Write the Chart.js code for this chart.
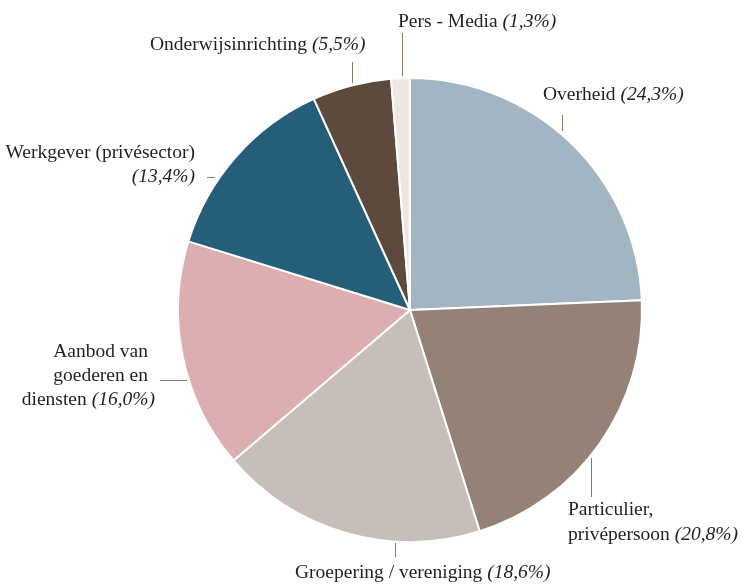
<!DOCTYPE html>
<html>
<head>
<meta charset="utf-8">
<script src="https://cdn.jsdelivr.net/npm/chart.js@4/dist/chart.umd.min.js"></script>
<style>
  html, body { margin: 0; padding: 0; background: #ffffff; }
  #wrap { width: 744px; height: 584px; }
</style>
</head>
<body>
<div id="wrap"><canvas id="c" width="744" height="584"></canvas></div>
<script>
// ---- Data ----
const categories = [
  'Overheid',
  'Particulier, privépersoon',
  'Groepering / vereniging',
  'Aanbod van goederen en diensten',
  'Werkgever (privésector)',
  'Onderwijsinrichting',
  'Pers - Media'
];
const shares = [24.3, 20.8, 18.6, 16.0, 13.4, 5.5, 1.3];
const sliceColors = ['#a2b5c3', '#958276', '#c8beb9', '#dcaeb0', '#245e78', '#5d4a3c', '#ede6e3'];

// ---- Label layout (line splits and placement relative to pie centre, in units of a 232px radius) ----
const labelLines = [
  ['Overheid'],
  ['Particulier,', 'privépersoon'],
  ['Groepering / vereniging'],
  ['Aanbod van', 'goederen en', 'diensten'],
  ['Werkgever (privésector)', ''],
  ['Onderwijsinrichting'],
  ['Pers - Media']
];
// leader: [x1,y1,x2,y2] ; text: align, x, first line y, line step ; per-line x override
const labelPlace = [
  { leader: [152, -195, 152, -179], align: 'left',  x: 133, y: -215, step: 24 },
  { leader: [181, 148, 181, 187],   align: 'left',  x: 158, y: 200,  step: 25 },
  { leader: [-15, 233, -15, 247],   align: 'left',  x: -115, y: 263, step: 24 },
  { leader: [-250, 70, -223, 70],   align: 'right', xs: [-262, -262, -255], y: 42, step: 24 },
  { leader: [-203, -133, -195, -133], align: 'right', xs: [-215, -215], y: -157, step: 24 },
  { leader: [-58, -248, -58, -227], align: 'left',  x: -260, y: -265, step: 24 },
  { leader: [-8, -277, -8, -234],   align: 'left',  x: -12, y: -288, step: 24 }
];

const FONT_FAMILY = '"Liberation Serif", "Times New Roman", serif';
const FONT_SIZE = 19.5;
const TEXT_COLOR = '#231f20';
const LEADER_COLOR = '#8a786d';

function pctText(v) {
  return '(' + v.toFixed(1).replace('.', ',') + '%)';
}

const labelPlugin = {
  id: 'pieLabels',
  afterDatasetsDraw(chart) {
    const ctx = chart.ctx;
    const meta = chart.getDatasetMeta(0);
    const arc = meta.data[0];
    if (!arc) return;
    const cx = arc.x, cy = arc.y;
    const s = arc.outerRadius / 232;
    ctx.save();
    ctx.textBaseline = 'middle';
    meta.data.forEach((el, i) => {
      const p = labelPlace[i];
      // leader line
      ctx.strokeStyle = LEADER_COLOR;
      ctx.lineWidth = 1;
      ctx.beginPath();
      const [x1, y1, x2, y2] = p.leader;
      const vert = x1 === x2;
      const ox = vert ? 0.5 : 0, oy = vert ? 0 : 0.5;
      ctx.moveTo(Math.round(cx + x1 * s) + ox, Math.round(cy + y1 * s) + oy);
      ctx.lineTo(Math.round(cx + x2 * s) + ox, Math.round(cy + y2 * s) + oy);
      ctx.stroke();
      // text
      const lines = labelLines[i];
      const pct = pctText(shares[i]);
      lines.forEach((ln, li) => {
        const last = li === lines.length - 1;
        const normal = last && ln !== '' ? ln + ' ' : ln;
        const ital = last ? pct : '';
        ctx.font = FONT_SIZE + 'px ' + FONT_FAMILY;
        const wN = ctx.measureText(normal).width;
        ctx.font = 'italic ' + FONT_SIZE + 'px ' + FONT_FAMILY;
        const wI = ital ? ctx.measureText(ital).width : 0;
        const total = wN + wI;
        const ax = cx + ((p.xs ? p.xs[li] : p.x) * s);
        let left = ax;
        if (p.align === 'right') left = ax - total;
        else if (p.align === 'center') left = ax - total / 2;
        const y = cy + (p.y + li * p.step) * s;
        ctx.fillStyle = TEXT_COLOR;
        ctx.textAlign = 'left';
        ctx.font = FONT_SIZE + 'px ' + FONT_FAMILY;
        ctx.fillText(normal, left, y);
        if (ital) {
          ctx.font = 'italic ' + FONT_SIZE + 'px ' + FONT_FAMILY;
          ctx.fillText(ital, left + wN, y);
        }
      });
    });
    ctx.restore();
  }
};

new Chart(document.getElementById('c'), {
  type: 'pie',
  data: {
    labels: categories,
    datasets: [{
      data: shares,
      backgroundColor: sliceColors,
      borderColor: '#ffffff',
      borderWidth: 2,
      radius: 232
    }]
  },
  options: {
    responsive: false,
    animation: false,
    layout: { padding: { left: 76, right: 0, top: 36, bottom: 0 } },
    plugins: {
      legend: { display: false },
      tooltip: { enabled: false },
      title: { display: false }
    }
  },
  plugins: [labelPlugin]
});
</script>
</body>
</html>
